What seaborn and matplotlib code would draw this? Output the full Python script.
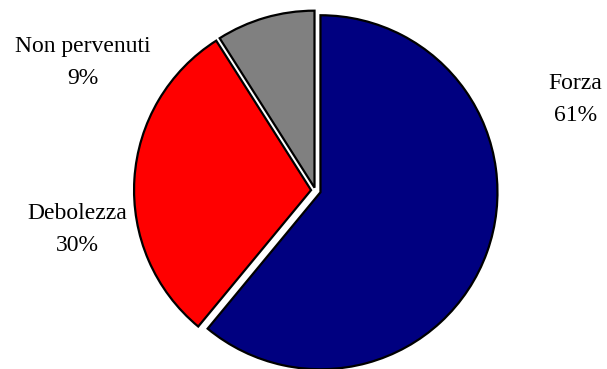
import matplotlib
matplotlib.use("Agg")
import matplotlib.pyplot as plt
import seaborn as sns

# Survey outcome shares (percent)
categories = ["Forza", "Debolezza", "Non pervenuti"]
values = [61, 30, 9]
slice_colors = ["#000080", "#FF0000", "#808080"]
explode = [0.031, 0.024, 0.016]

# Label anchor points, in units of the pie radius, relative to the pie centre
label_offsets = [(1.470, 0.515), (-1.346, -0.222), (-1.312, 0.724)]

sns.set_style("white")
plt.rcParams["font.family"] = ["Liberation Serif", "DejaVu Serif"]

W, H = 607, 369
fig = plt.figure(figsize=(W / 100, H / 100), dpi=100)
ax = fig.add_axes([0, 0, 1, 1])

radius_px = 177.0
cx_px, cy_px = 315.3, 190.4  # pie centre, measured from top-left

ax.pie(
    values,
    colors=slice_colors,
    explode=explode,
    startangle=90,
    counterclock=False,
    radius=1.0,
    wedgeprops=dict(edgecolor="black", linewidth=1.6, joinstyle="miter"),
)

for name, val, (lx, ly) in zip(categories, values, label_offsets):
    ax.text(lx, ly, f"{name}\n{val}%", ha="center", va="center",
            fontsize=17, linespacing=1.68, color="black")

ax.set_xlim(-cx_px / radius_px, (W - cx_px) / radius_px)
ax.set_ylim(-(H - cy_px) / radius_px, cy_px / radius_px)
ax.set_aspect("equal")
ax.axis("off")

fig.savefig("out.png", dpi=100)
